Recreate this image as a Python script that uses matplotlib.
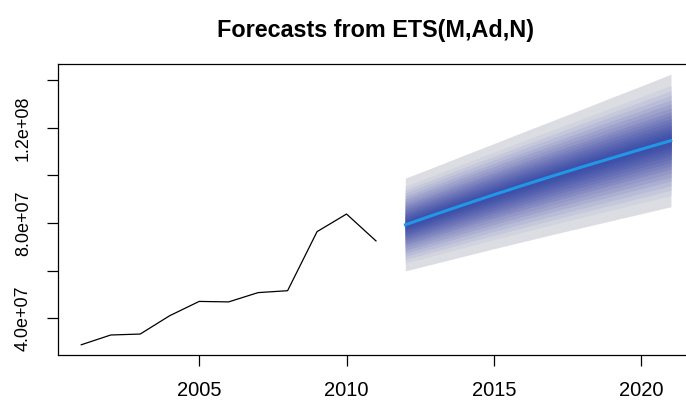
import numpy as np
import matplotlib
matplotlib.use("Agg")
import matplotlib.pyplot as plt
from matplotlib.colors import LinearSegmentedColormap

plt.rcParams['font.family'] = ['Liberation Sans', 'DejaVu Sans']

# observed series
years = [2001, 2002, 2003, 2004, 2005, 2006, 2007, 2008, 2009, 2010, 2011]
values = [28.9e6, 33.0e6, 33.4e6, 41.1e6, 47.1e6, 46.9e6, 50.8e6, 51.6e6, 76.4e6, 83.8e6, 72.5e6]

# forecast (point forecast + 99% interval)
fc_years = [2012, 2013, 2014, 2015, 2016, 2017, 2018, 2019, 2020, 2021]
fc_mean = [79.3e6, 83.6e6, 87.8e6, 91.9e6, 95.9e6, 99.8e6, 103.6e6, 107.3e6, 111.0e6, 114.6e6]
fc_hi99 = [98.8e6, 103.6e6, 108.5e6, 113.3e6, 118.2e6, 123.0e6, 127.8e6, 132.7e6, 137.5e6, 142.4e6]
fc_lo99 = [60.0e6, 63.1e6, 66.2e6, 69.3e6, 72.3e6, 75.3e6, 78.2e6, 81.1e6, 84.0e6, 86.9e6]

# fan levels and their half-width relative to the 99% band
levels = [51, 54, 57, 60, 63, 66, 69, 72, 75, 78, 81, 84, 87, 90, 93, 96, 99]
level_frac = [0.035, 0.07, 0.11, 0.15, 0.19, 0.23, 0.28, 0.33, 0.38,
              0.43, 0.49, 0.55, 0.61, 0.68, 0.75, 0.83, 1.0]

yticks = [40e6, 60e6, 80e6, 100e6, 120e6, 140e6]
ytick_labels = ["4.0e+07", "", "8.0e+07", "", "1.2e+08", ""]
xticks = [2005, 2010, 2015, 2020]

# fan shades by distance from the centre line
fan_cmap = LinearSegmentedColormap.from_list("fan", [
    (0.0, '#3A4CA6'), (0.1, '#4354AA'), (0.3, '#6A72B8'), (0.5, '#959AC8'),
    (0.7, '#BDBFD8'), (0.85, '#D4D6E0'), (1.0, '#DCDDE2')])

fig = plt.figure(figsize=(6.86, 4.01), dpi=100)
ax = fig.add_axes([57.7 / 686, 46 / 401, (694.3 - 57.7) / 686, (355 - 64) / 401])

mean = np.array(fc_mean)
hi = np.array(fc_hi99)
lo = np.array(fc_lo99)

# widest band first so the narrow ones sit on top
for frac in sorted(level_frac, reverse=True):
    up = mean + frac * (hi - mean)
    dn = mean - frac * (mean - lo)
    col = fan_cmap(frac)
    ax.fill_between(fc_years, dn, up, facecolor=col, edgecolor=col, linewidth=0.2)

ax.plot(years, values, color='black', linewidth=0.9)
ax.plot(fc_years, fc_mean, color='#2297E6', linewidth=2.2)

ax.set_xlim(2000.2, 2021.8)
ax.set_ylim(24.6e6, 146.8e6)
ax.set_xticks(xticks)
ax.set_xticklabels([str(x) for x in xticks])
ax.set_yticks(yticks)
ax.set_yticklabels(ytick_labels, rotation=90, va='center')
ax.tick_params(length=8, width=0.9, pad=10.5, colors='black')
ax.tick_params(axis='x', labelsize=14.5)
ax.tick_params(axis='y', labelsize=13)
for s in ax.spines.values():
    s.set_linewidth(0.9)

fig.text(376 / 686, 1 - 31 / 401, "Forecasts from ETS(M,Ad,N)", ha='center', va='center',
         fontsize=16.8, fontweight='bold')

fig.savefig("out.png", dpi=100)
